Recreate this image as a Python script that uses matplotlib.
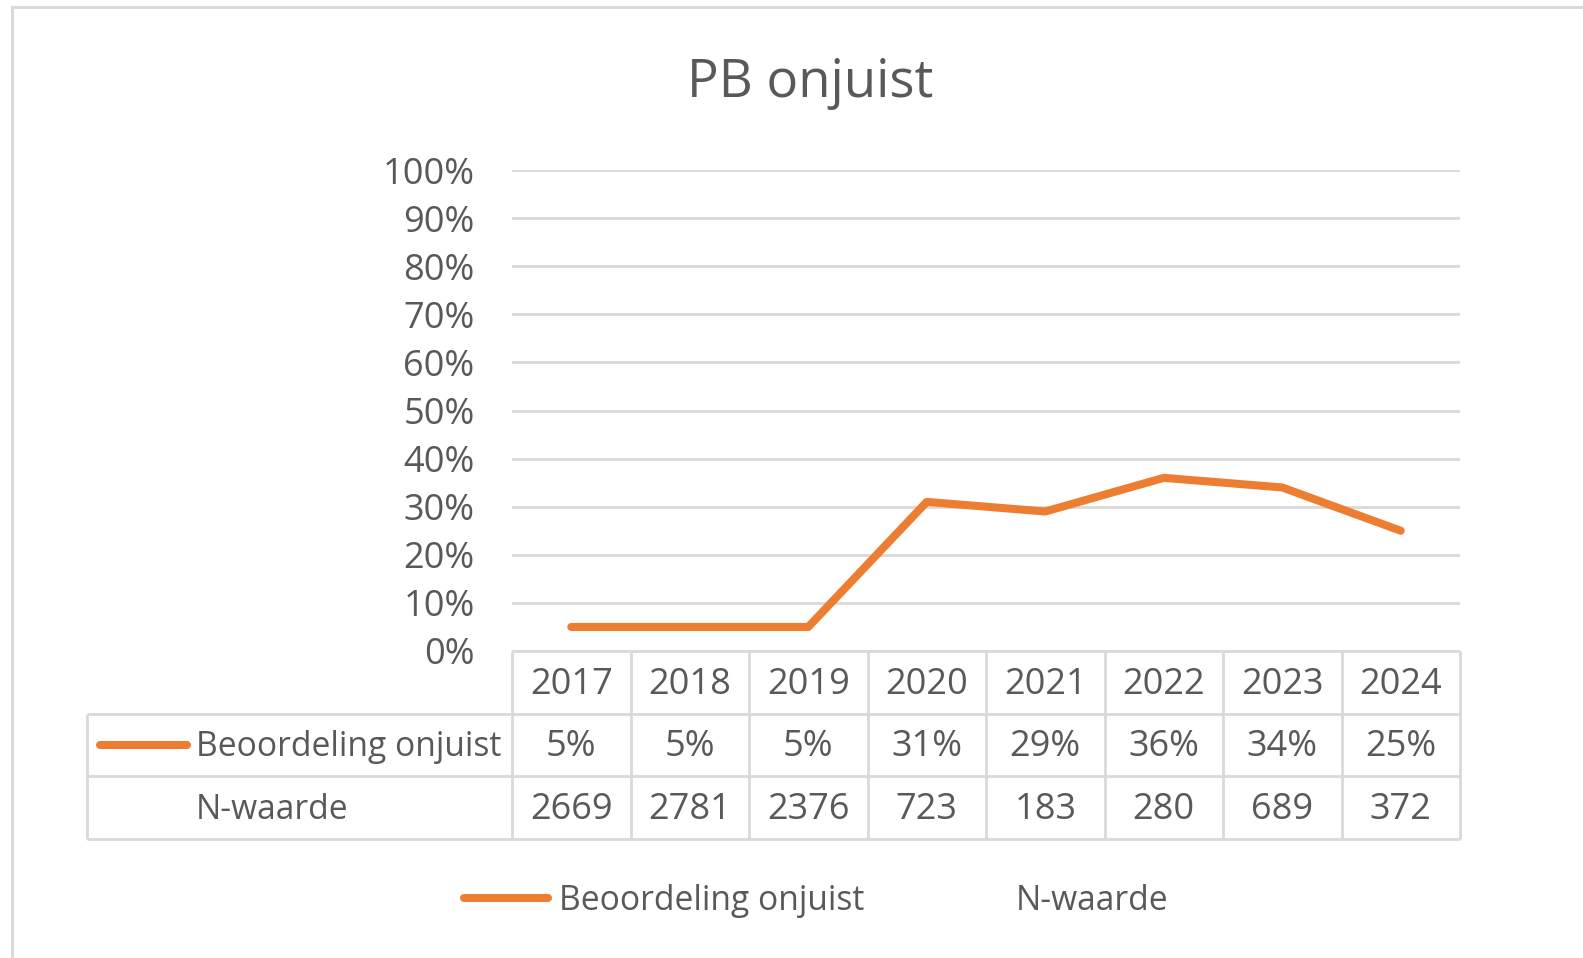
import matplotlib.pyplot as plt
from matplotlib.lines import Line2D

# data
years = ["2017", "2018", "2019", "2020", "2021", "2022", "2023", "2024"]
onjuist = [5, 5, 5, 31, 29, 36, 34, 25]
n_waarde = [2669, 2781, 2376, 723, 183, 280, 689, 372]
series_name = "Beoordeling onjuist"
n_name = "N-waarde"

W, H = 1583, 958
ORANGE = "#ED7D31"
GRID = "#d9d9d9"
TXT = "#595959"
NUM_FS = 26
LBL_FS = 24.2
plt.rcParams["font.family"] = ["Open Sans", "DejaVu Sans"]


def fx(x):
    return x / W


def fy(y):
    return 1 - y / H


fig = plt.figure(figsize=(W / 100, H / 100), dpi=100)

# plot area in pixels
left, right, top, bottom = 512, 1460, 170, 651
ax = fig.add_axes([fx(left), fy(bottom), fx(right) - fx(left), fy(top) - fy(bottom)])
x = list(range(len(years)))
ax.plot(x, [v / 100 for v in onjuist], color=ORANGE, lw=5.8, solid_capstyle="round",
        solid_joinstyle="round", zorder=3)
ax.set_xlim(-0.5, len(years) - 0.5)
ax.set_ylim(0, 1)
ax.set_yticks([i / 10 for i in range(11)])
ax.set_yticklabels([f"{i * 10}%" for i in range(11)])
ax.yaxis.grid(True, color=GRID, lw=2)
ax.set_xticks([])
ax.tick_params(axis="y", length=0, pad=27, labelsize=NUM_FS, labelcolor=TXT)
for s in ax.spines.values():
    s.set_visible(False)

# title
fig.text(fx(810), fy(83), "PB onjuist", ha="center", va="center", fontsize=38, color=TXT)

# data table
col_w = (right - left) / len(years)
row_y = [651, 714, 776, 839]
tl = dict(color=GRID, lw=2, transform=fig.transFigure, solid_capstyle="butt")
fig.add_artist(Line2D([fx(left), fx(right)], [fy(row_y[0])] * 2, **tl))
for yy in row_y[1:]:
    fig.add_artist(Line2D([fx(87), fx(right)], [fy(yy)] * 2, **tl))
fig.add_artist(Line2D([fx(87)] * 2, [fy(row_y[1]), fy(row_y[3])], **tl))
for i in range(len(years) + 1):
    xx = left + i * col_w
    fig.add_artist(Line2D([fx(xx)] * 2, [fy(row_y[0]), fy(row_y[3])], **tl))

for i, yr in enumerate(years):
    cx = fx(left + (i + 0.5) * col_w)
    fig.text(cx, fy(685), yr, ha="center", va="center", fontsize=NUM_FS, color=TXT)
    fig.text(cx, fy(747), f"{onjuist[i]}%", ha="center", va="center", fontsize=NUM_FS, color=TXT)
    fig.text(cx, fy(810), str(n_waarde[i]), ha="center", va="center", fontsize=NUM_FS, color=TXT)

fig.add_artist(Line2D([fx(100), fx(187)], [fy(745)] * 2, color=ORANGE, lw=5.8,
                      solid_capstyle="round", transform=fig.transFigure))
fig.text(fx(196), fy(747), series_name, ha="left", va="center", fontsize=LBL_FS, color=TXT)
fig.text(fx(196), fy(810), n_name, ha="left", va="center", fontsize=LBL_FS, color=TXT)

# legend below
fig.add_artist(Line2D([fx(464), fx(548)], [fy(898)] * 2, color=ORANGE, lw=5.8,
                      solid_capstyle="round", transform=fig.transFigure))
fig.text(fx(559), fy(901), series_name, ha="left", va="center", fontsize=LBL_FS, color=TXT)
fig.text(fx(1016), fy(901), n_name, ha="left", va="center", fontsize=LBL_FS, color=TXT)

# outer chart border (left and top visible)
bl = dict(color=GRID, lw=2.2, transform=fig.transFigure)
fig.add_artist(Line2D([fx(12), fx(12)], [fy(7), 0], **bl))
fig.add_artist(Line2D([fx(12), 1], [fy(7), fy(7)], **bl))

fig.savefig("out.png", dpi=100)
